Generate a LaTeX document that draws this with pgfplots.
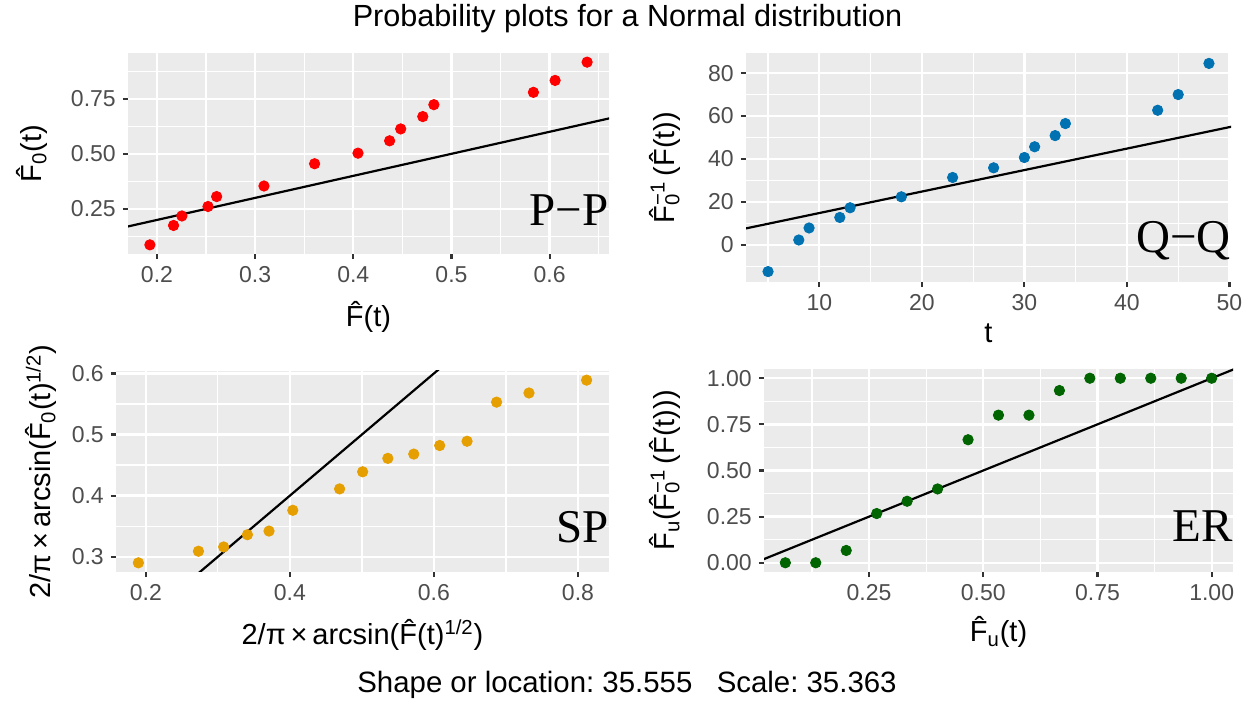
\documentclass[border=0pt]{standalone}
\usepackage{fontspec}
\setmainfont{Liberation Sans}
\newfontfamily\serifp{Liberation Serif}
\usepackage{pgfplots}
\usepackage{pgfplotstable}
\pgfplotsset{compat=1.18}
\frenchspacing
\definecolor{panelbg}{HTML}{EBEBEB}
\definecolor{ticklab}{HTML}{4D4D4D}
\definecolor{tickcol}{HTML}{333333}
\definecolor{ppred}{HTML}{FF0000}
\definecolor{qqblue}{HTML}{0072B2}
\definecolor{sporange}{HTML}{E69F00}
\definecolor{ergreen}{HTML}{006400}
\newcommand{\Fh}{\^{F}}
\newcommand{\ttl}{\fontsize{14.5}{16}\selectfont}
\newcommand{\panfont}{\serifp\fontsize{23.5}{26}\selectfont}
\newcommand{\tms}{\,×\,}
\pgfplotsset{gg/.style={
  scale only axis,
  anchor=south west,
  axis background/.style={fill=panelbg},
  axis line style={draw=none},
  grid=both,
  major grid style={white, line width=1.15pt},
  minor grid style={white, line width=0.6pt},
  tick align=outside,
  xtick pos=left, ytick pos=left,
  major tick length=2.6pt,
  minor tick length=0pt,
  major tick style={tickcol, line width=1.1pt},
  ticklabel style={font=\fontsize{11.5}{13}\selectfont, text=ticklab},
  clip=true,
}}
\pgfplotstableread{
x y
0.1928 0.087
0.2169 0.175
0.2254 0.218
0.2520 0.261
0.2608 0.306
0.3090 0.354
0.3606 0.455
0.4048 0.503
0.4370 0.559
0.4483 0.613
0.4708 0.669
0.4821 0.723
0.5835 0.779
0.6056 0.833
0.6382 0.916
}\pp
\pgfplotstableread{
x y
5 -12.4
8 2.3
9 7.9
12 12.8
13 17.3
18 22.4
23 31.4
27 35.9
30 40.7
31 45.7
33 50.9
34 56.5
43 62.7
45 70.0
48 84.5
}\qq
\pgfplotstableread{
x y
0.1896 0.290
0.2730 0.309
0.3080 0.316
0.3410 0.336
0.3710 0.342
0.4040 0.376
0.4690 0.411
0.5010 0.439
0.5360 0.461
0.5720 0.468
0.6080 0.482
0.6460 0.489
0.6870 0.553
0.7320 0.568
0.8120 0.589
}\sp
\pgfplotstableread{
x y
0.0667 0
0.1333 0
0.2000 0.0667
0.2667 0.2667
0.3333 0.3333
0.4000 0.4000
0.4667 0.6667
0.5333 0.8000
0.6000 0.8000
0.6667 0.9333
0.7333 1
0.8000 1
0.8667 1
0.9333 1
1.0000 1
}\er
\begin{document}
\begin{tikzpicture}
\path[use as bounding box] (0,0) rectangle (626.5pt,356pt);
% P-P
\begin{axis}[gg, name=p1, at={(64pt,229pt)}, width=240.5pt, height=100.5pt,
  xmin=0.1705, xmax=0.6605, ymin=0.0455, ymax=0.9575,
  xtick={0.2,0.3,0.4,0.5,0.6}, xticklabels={0.2,0.3,0.4,0.5,0.6},
  minor xtick={0.25,0.35,0.45,0.55,0.65},
  ytick={0.25,0.5,0.75}, yticklabels={0.25,0.50,0.75},
  minor ytick={0.125,0.375,0.625,0.875}]
\addplot[only marks, mark=*, mark size=2.6pt, color=ppred] table[x=x,y=y] {\pp};
\addplot[black, line width=1.1pt] coordinates {(0,0) (1,1)};
\end{axis}
% Q-Q
\begin{axis}[gg, name=p2, at={(373pt,215pt)}, width=242.5pt, height=114.5pt,
  xmin=2.85, xmax=50.15, ymin=-17.25, ymax=89.35,
  xtick={10,20,30,40,50}, xticklabels={10,20,30,40,50},
  minor xtick={5,15,25,35,45},
  ytick={0,20,40,60,80}, yticklabels={0,20,40,60,80},
  minor ytick={-10,10,30,50,70}]
\addplot[only marks, mark=*, mark size=2.6pt, color=qqblue] table[x=x,y=y] {\qq};
\addplot[black, line width=1.1pt] coordinates {(0,4.85) (55,59.85)};
\end{axis}
% SP
\begin{axis}[gg, name=p3, at={(58pt,70pt)}, width=246.5pt, height=100.5pt,
  xmin=0.1585, xmax=0.8431, ymin=0.275, ymax=0.604,
  xtick={0.2,0.4,0.6,0.8}, xticklabels={0.2,0.4,0.6,0.8},
  minor xtick={0.3,0.5,0.7},
  ytick={0.3,0.4,0.5,0.6}, yticklabels={0.3,0.4,0.5,0.6},
  minor ytick={0.35,0.45,0.55}]
\addplot[only marks, mark=*, mark size=2.6pt, color=sporange] table[x=x,y=y] {\sp};
\addplot[black, line width=1.1pt] coordinates {(0,0) (1,1)};
\end{axis}
% ER
\begin{axis}[gg, name=p4, at={(382pt,70pt)}, width=234.5pt, height=101.5pt,
  xmin=0.02, xmax=1.0467, ymin=-0.05, ymax=1.05,
  xtick={0.25,0.5,0.75,1}, xticklabels={0.25,0.50,0.75,1.00},
  minor xtick={0.125,0.375,0.625,0.875},
  ytick={0,0.25,0.5,0.75,1}, yticklabels={0.00,0.25,0.50,0.75,1.00},
  minor ytick={0.125,0.375,0.625,0.875}]
\addplot[only marks, mark=*, mark size=2.6pt, color=ergreen] table[x=x,y=y] {\er};
\addplot[black, line width=1.1pt] coordinates {(0,0) (1.1,1.1)};
\end{axis}
% panel tags
\node[anchor=base east, inner sep=0pt, font=\panfont] at ([yshift=14pt]p1.south east) {P−P};
\node[anchor=base east, inner sep=0pt, font=\panfont] at ([yshift=14.5pt]p2.south east) {Q−Q};
\node[anchor=base east, inner sep=0pt, font=\panfont] at ([yshift=14.5pt]p3.south east) {SP};
\node[anchor=base east, inner sep=0pt, font=\panfont] at ([yshift=15pt]p4.south east) {ER};
% axis titles
\node[anchor=base, inner sep=0pt, font=\ttl] at ([yshift=-36.5pt]p1.south) {\Fh(t)};
\node[anchor=base, inner sep=0pt, font=\ttl] at ([yshift=-30.5pt]p2.south) {t};
\node[anchor=base, inner sep=0pt, font=\ttl] at ([yshift=-36.5pt]p3.south) {2/π\tms arcsin(\Fh(t)\textsuperscript{1/2})};
\node[anchor=base, inner sep=0pt, font=\ttl] at ([yshift=-35pt]p4.south) {\Fh\textsubscript{u}(t)};
\node[rotate=90, inner sep=0pt, font=\ttl] at ([xshift=-48pt]p1.west) {\Fh\textsubscript{0}(t)};
\node[rotate=90, inner sep=0pt, font=\ttl] at ([xshift=-40.5pt]p2.west) {\Fh\makebox[0pt][l]{\textsubscript{0}}\textsuperscript{−1}\,(\Fh(t))};
\node[rotate=90, inner sep=0pt, font=\ttl] at ([xshift=-37.5pt]p3.west) {2/π\tms arcsin(\Fh\textsubscript{0}(t)\textsuperscript{1/2})};
\node[rotate=90, inner sep=0pt, font=\ttl] at ([xshift=-49.5pt]p4.west) {\Fh\textsubscript{u}(\Fh\makebox[0pt][l]{\textsubscript{0}}\textsuperscript{−1}\,(\Fh(t)))};
% title and caption
\node[anchor=base, inner sep=0pt, font=\fontsize{15.3}{17}\selectfont] at (313.75pt,342.5pt) {Probability plots for a Normal distribution};
\node[anchor=base, inner sep=0pt, font=\fontsize{14.7}{17}\selectfont] at (313.5pt,9.5pt) {Shape or location: 35.555\hspace{0.83em}Scale: 35.363};
\end{tikzpicture}
\end{document}
